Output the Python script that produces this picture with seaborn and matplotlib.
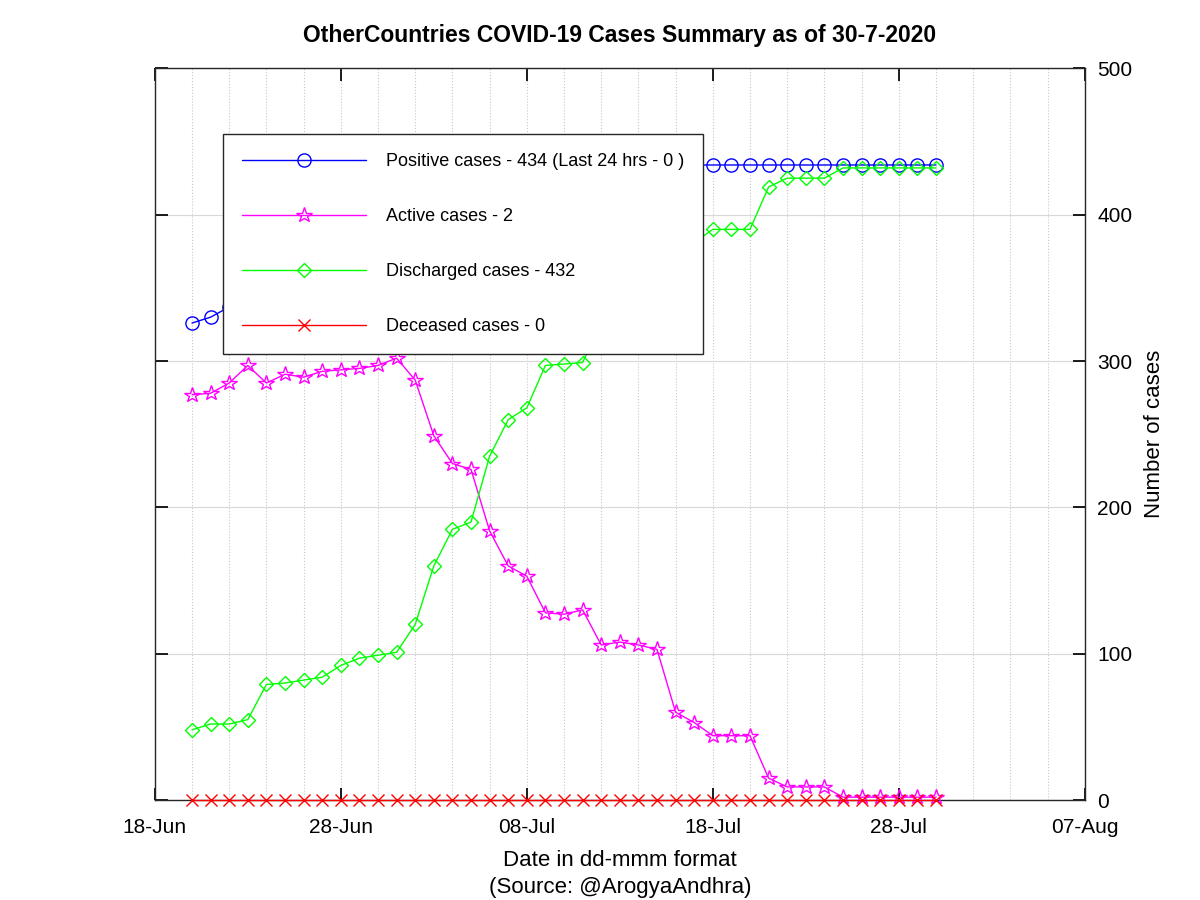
import pandas as pd
import matplotlib.pyplot as plt
import matplotlib.dates as mdates
import seaborn as sns

# daily values, 20-Jun-2020 .. 30-Jul-2020
FECHAS = pd.date_range("2020-06-20", "2020-07-30", freq="D")

ACTIVOS = [277, 278, 285, 297, 285, 291, 289, 293, 294, 295,
           297, 302, 287, 249, 230, 226, 184, 160, 153, 128,
           127, 130, 106, 108, 106, 103, 60, 53, 44, 44,
           44, 15, 9, 9, 9, 2, 2, 2, 2, 2, 2]
DESCARGADOS = [48, 52, 52, 55, 79, 80, 82, 84, 92, 97,
               99, 101, 120, 160, 185, 190, 235, 260, 268, 297,
               298, 299, 326, 326, 328, 331, 374, 381, 390, 390,
               390, 419, 425, 425, 425, 432, 432, 432, 432, 432, 432]
POSITIVOS = [326, 330, 337, 352, 364, 371, 371, 377, 386, 392,
             396, 403, 407, 409, 415, 416, 419, 420, 421, 425,
             425, 429, 432, 434, 434, 434, 434, 434, 434, 434,
             434, 434, 434, 434, 434, 434, 434, 434, 434, 434, 434]
FALLECIDOS = [0] * 41

ETIQUETAS = ["Positive cases - 434 (Last 24 hrs - 0 )",
             "Active cases - 2",
             "Discharged cases - 432",
             "Deceased cases - 0"]

TICKS_X = ["2020-06-18", "2020-06-28", "2020-07-08",
           "2020-07-18", "2020-07-28", "2020-08-07"]

sns.set_theme(style="white")
plt.rcParams['font.family'] = ['Liberation Sans', 'DejaVu Sans']
plt.rcParams['text.color'] = 'black'
plt.rcParams['axes.labelcolor'] = 'black'
plt.rcParams['xtick.color'] = 'black'
plt.rcParams['ytick.color'] = 'black'

fig = plt.figure(figsize=(12, 9), dpi=100)
ax = fig.add_axes([0.129, 0.111, 0.775, 0.813])

series = [
    (POSITIVOS, "#0000ff", "o", ETIQUETAS[0]),
    (ACTIVOS, "#ff00ff", "*", ETIQUETAS[1]),
    (DESCARGADOS, "#00ff00", "D", ETIQUETAS[2]),
    (FALLECIDOS, "#ff0000", "x", ETIQUETAS[3]),
]
for valores, cor, marca, rotulo in series:
    df = pd.DataFrame({"fecha": FECHAS, "valor": valores})
    tam = {"o": 9.5, "*": 11.5, "D": 7, "x": 9}[marca]
    sns.lineplot(data=df, x="fecha", y="valor", ax=ax, color=cor, marker=marca,
                 markersize=tam, markerfacecolor="none", markeredgecolor=cor,
                 markeredgewidth=1.0, linewidth=1.0, label=rotulo, clip_on=False,
                 zorder=3)

ax.set_xlim(pd.Timestamp("2020-06-18"), pd.Timestamp("2020-08-07"))
ax.set_ylim(0, 500)
ax.set_xticks([pd.Timestamp(d) for d in TICKS_X])
ax.xaxis.set_major_formatter(mdates.DateFormatter("%d-%b"))
ax.set_xticks(pd.date_range("2020-06-20", "2020-08-06", freq="2D"), minor=True)
ax.set_yticks([0, 100, 200, 300, 400, 500])

ax.yaxis.set_label_position("right")
ax.tick_params(axis="y", left=True, right=True, labelleft=False, labelright=True,
               direction="in", length=9, labelsize=15, pad=9)
ax.tick_params(axis="x", which="major", bottom=True, top=True, direction="in",
               length=9, labelsize=15, pad=13)
ax.tick_params(axis="x", which="minor", length=0)

ax.grid(True, axis="y", color="#d8d8d8", linewidth=0.8)
ax.grid(True, axis="x", which="both", color="#c8c8c8", linestyle=":", linewidth=0.8)
for s in ax.spines.values():
    s.set_color("#262626")
    s.set_linewidth(1.0)

ax.set_ylabel("Number of cases", fontsize=16, labelpad=8)
ax.set_xlabel("Date in dd-mmm format\n(Source: @ArogyaAndhra)", fontsize=16,
              labelpad=9, linespacing=1.4)
ax.set_title("OtherCountries COVID-19 Cases Summary as of 30-7-2020",
             fontsize=16.5, fontweight="bold", pad=19)

leg = ax.legend(loc="upper left", bbox_to_anchor=(0.073, 0.91), borderaxespad=0,
                fontsize=13, handlelength=6.9, handletextpad=1.1, labelspacing=2.1,
                borderpad=1.05, fancybox=False, framealpha=1, edgecolor="#262626")
leg.get_frame().set_linewidth(1.0)

plt.savefig("out.png", dpi=100)
plt.close()
